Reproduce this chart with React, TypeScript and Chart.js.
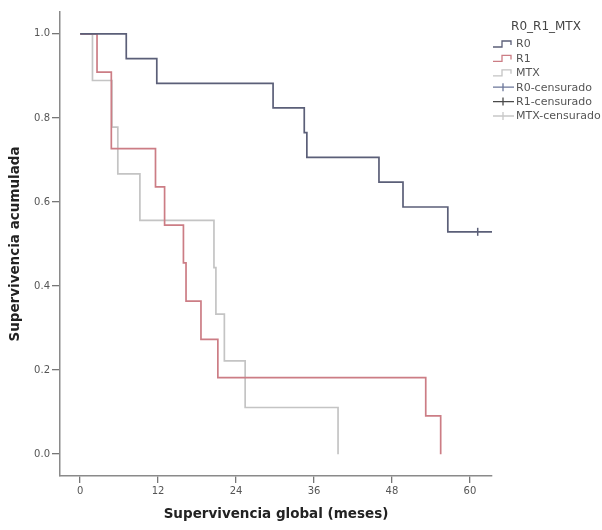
import React, { useEffect, useRef } from 'react';
import { Chart, registerables } from 'chart.js';

Chart.register(...registerables);

// Kaplan-Meier step data (months, cumulative survival)
const r0Months = [0, 7.1, 11.8, 29.7, 34.5, 34.9, 46.0, 49.7, 56.6, 63.4];
const r0Surv = [1, 0.941, 0.882, 0.824, 0.765, 0.706, 0.647, 0.588, 0.529, 0.529];
const r0CensorMonths = [61.2];
const r0CensorSurv = [0.529];

const r1Months = [0, 2.6, 4.8, 11.6, 13.0, 15.9, 16.3, 18.6, 21.2, 53.2, 55.5];
const r1Surv = [1, 0.909, 0.727, 0.636, 0.545, 0.455, 0.364, 0.273, 0.182, 0.091, 0];

const mtxMonths = [0, 1.9, 4.9, 5.8, 9.2, 20.6, 20.9, 22.2, 25.4, 39.7];
const mtxSurv = [1, 0.889, 0.778, 0.667, 0.556, 0.444, 0.333, 0.222, 0.111, 0];

const xTicks = [0, 12, 24, 36, 48, 60];
const yTicks = [0, 0.2, 0.4, 0.6, 0.8, 1.0];

const legendTitle = 'R0_R1_MTX';
const legendLabels = ['R0', 'R1', 'MTX', 'R0-censurado', 'R1-censurado', 'MTX-censurado'];
const legendKinds = ['step', 'step', 'step', 'cross', 'cross', 'cross'];

const xTitle = 'Supervivencia global (meses)';
const yTitle = 'Supervivencia acumulada';

const COLOR_R0 = '#5b5f78';
const COLOR_R1 = '#cc7d85';
const COLOR_MTX = '#c4c4c4';
const legendColors = [COLOR_R0, COLOR_R1, COLOR_MTX, '#6b7699', '#4a4a4a', '#c8c8c8'];

const FONT = "'DejaVu Sans', sans-serif";

function toPts(xs: number[], ys: number[]) {
  return xs.map((x, i) => ({ x, y: ys[i] }));
}

export default function App() {
  const ref = useRef<HTMLCanvasElement>(null);

  useEffect(() => {
    if (!ref.current) return;

    const legendPlugin = {
      id: 'kmLegend',
      afterDraw(chart: any) {
        const ctx = chart.ctx as CanvasRenderingContext2D;
        ctx.save();
        ctx.fillStyle = '#444';
        ctx.font = `12px ${FONT}`;
        ctx.textAlign = 'center';
        ctx.textBaseline = 'middle';
        ctx.fillText(legendTitle, 546, 27);
        ctx.font = `11px ${FONT}`;
        ctx.textAlign = 'left';
        legendLabels.forEach((lab, i) => {
          const y = 44 + i * 14.4;
          ctx.strokeStyle = legendColors[i];
          ctx.lineWidth = 1.3;
          ctx.beginPath();
          if (legendKinds[i] === 'step') {
            ctx.moveTo(493, y + 3);
            ctx.lineTo(502, y + 3);
            ctx.lineTo(502, y - 3);
            ctx.lineTo(511, y - 3);
            ctx.lineTo(511, y + 1);
          } else {
            ctx.moveTo(493, y);
            ctx.lineTo(514, y);
            ctx.moveTo(503, y - 4);
            ctx.lineTo(503, y + 4);
          }
          ctx.stroke();
          ctx.fillStyle = '#555';
          ctx.fillText(lab, 516, y + 0.5);
        });
        ctx.restore();
      },
    };

    const chart = new Chart(ref.current, {
      type: 'line',
      data: {
        datasets: [
          {
            label: 'R0-censurado',
            data: toPts(r0CensorMonths, r0CensorSurv),
            showLine: false,
            pointStyle: 'line',
            rotation: 90,
            pointRadius: 4,
            pointBorderWidth: 1.5,
            borderColor: COLOR_R0,
            backgroundColor: COLOR_R0,
          } as any,
          {
            label: 'R0',
            data: toPts(r0Months, r0Surv),
            stepped: 'before',
            borderColor: COLOR_R0,
            borderWidth: 1.7,
            pointRadius: 0,
            fill: false,
          },
          {
            label: 'R1',
            data: toPts(r1Months, r1Surv),
            stepped: 'before',
            borderColor: COLOR_R1,
            borderWidth: 1.7,
            pointRadius: 0,
            fill: false,
          },
          {
            label: 'MTX',
            data: toPts(mtxMonths, mtxSurv),
            stepped: 'before',
            borderColor: COLOR_MTX,
            borderWidth: 1.7,
            pointRadius: 0,
            fill: false,
          },
        ],
      },
      options: {
        animation: false,
        responsive: false,
        events: [],
        layout: { padding: { left: 0, top: 12, right: 110, bottom: 0 } },
        plugins: {
          legend: { display: false },
          tooltip: { enabled: false },
          title: { display: false },
        },
        scales: {
          x: {
            type: 'linear',
            min: -3.1,
            max: 63.4,
            afterBuildTicks: (scale: any) => {
              scale.ticks = xTicks.map((v) => ({ value: v }));
            },
            afterFit: (scale: any) => {
              scale.height = 54;
            },
            grid: {
              drawOnChartArea: false,
              drawTicks: true,
              tickLength: 7,
              color: '#777',
              lineWidth: 1.3,
            },
            border: { display: true, color: '#8a8a8a', width: 1.5 },
            ticks: {
              color: '#555',
              font: { family: FONT, size: 10 },
              padding: 2,
              maxRotation: 0,
              callback: (v: any) => String(v),
            },
            title: {
              display: true,
              text: xTitle,
              color: '#222',
              font: { family: FONT, size: 13.5, weight: 'bold' },
              padding: { top: 0, bottom: 7 },
            },
          },
          y: {
            type: 'linear',
            min: -0.052,
            max: 1.052,
            afterBuildTicks: (scale: any) => {
              scale.ticks = yTicks.map((v) => ({ value: v }));
            },
            afterFit: (scale: any) => {
              scale.width = 60;
            },
            grid: {
              drawOnChartArea: false,
              drawTicks: true,
              tickLength: 8,
              color: '#777',
              lineWidth: 1.3,
            },
            border: { display: true, color: '#8a8a8a', width: 1.5 },
            ticks: {
              color: '#555',
              font: { family: FONT, size: 10 },
              padding: 2,
              callback: (v: any) => Number(v).toFixed(1),
            },
            title: {
              display: true,
              text: yTitle,
              color: '#222',
              font: { family: FONT, size: 13.5, weight: 'bold' },
              padding: { top: 7, bottom: 0 },
            },
          },
        },
      },
      plugins: [legendPlugin],
    } as any);

    return () => chart.destroy();
  }, []);

  return (
    <div style={{ position: 'absolute', left: 0, top: 0, width: 602, height: 530, background: '#fff' }}>
      <canvas ref={ref} width={602} height={530} style={{ display: 'block' }} />
    </div>
  );
}
